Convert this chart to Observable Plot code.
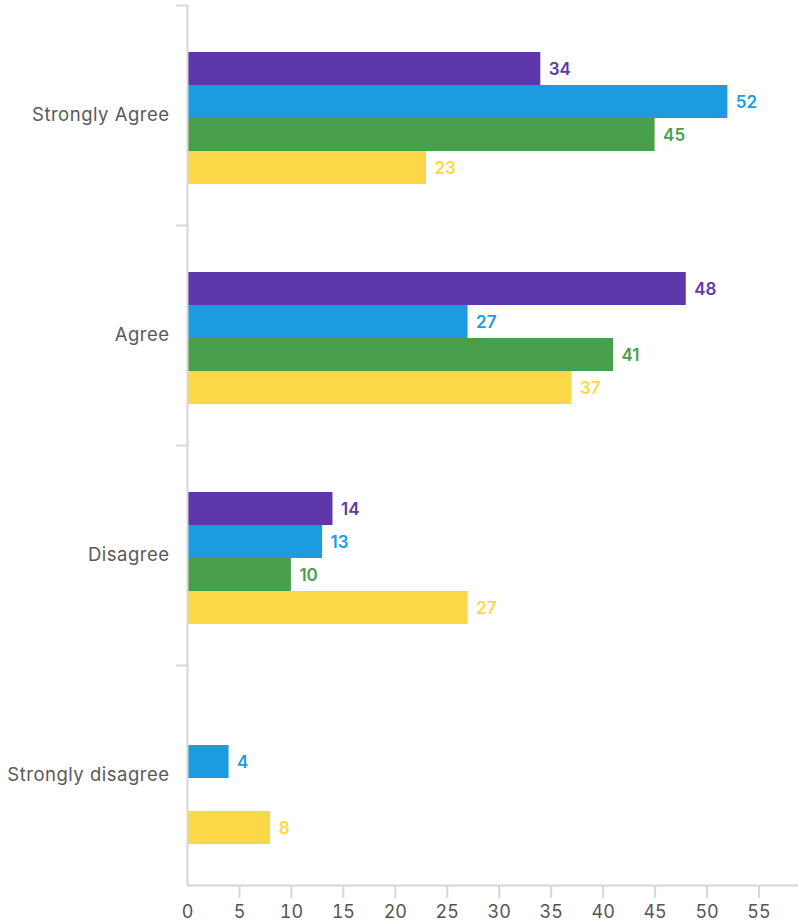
<!DOCTYPE html>
<html>
<head>
<meta charset="utf-8">
<script src="https://cdn.jsdelivr.net/npm/d3@7"></script>
<script src="https://cdn.jsdelivr.net/npm/@observablehq/plot@0.6"></script>
<style>
  html, body { margin: 0; padding: 0; background: #fff; }
  g[aria-label="fy-axis tick label"] text { letter-spacing: 0.5px; }
</style>
</head>
<body>
<div id="chart"></div>
<script>
const categories = ["Strongly Agree", "Agree", "Disagree", "Strongly disagree"];
const series = ["Group 1", "Group 2", "Group 3", "Group 4"];
const colors = ["#5e38ab", "#1c9be0", "#479f4b", "#fcd748"];
const group1 = [34, 48, 14, 0];
const group2 = [52, 27, 13, 4];
const group3 = [45, 41, 10, 0];
const group4 = [23, 37, 27, 8];
const xTicks = [0, 5, 10, 15, 20, 25, 30, 35, 40, 45, 50, 55];

const values = [group1, group2, group3, group4];
const data = [];
categories.forEach((c, ci) => {
  series.forEach((s, si) => {
    data.push({category: c, series: s, value: values[si][ci]});
  });
});
const shown = data.filter(d => d.value > 0);

const W = 798, H = 924;
const mTop = 5, mBottom = 39, mLeft = 187, mRight = 0;
const facetH = (H - mTop - mBottom) / categories.length;
const axisGray = "#d6d6d6";
const font = "Inter, 'Open Sans', sans-serif";

const chart = Plot.plot({
  width: W,
  height: H,
  marginTop: mTop,
  marginBottom: mBottom,
  marginLeft: mLeft,
  marginRight: mRight,
  style: {fontFamily: font, background: "#fff"},
  x: {domain: [0, 58.8]},
  y: {domain: series, paddingInner: 0, paddingOuter: 4 / 3, align: 0.53, axis: null},
  fy: {domain: categories, padding: 0, label: null},
  color: {domain: series, range: colors},
  marks: [
    Plot.barX(shown, {x: "value", y: "series", fy: "category", fill: "series"}),
    Plot.text(shown, {
      x: "value", y: "series", fy: "category", fill: "series",
      text: d => String(d.value), dx: 8, dy: 1, textAnchor: "start",
      fontSize: 17, fontWeight: 600
    }),
    Plot.ruleX([0], {stroke: axisGray, strokeWidth: 2}),
    Plot.ruleY(categories, {fy: d => d, y: null, dy: -facetH / 2, x1: 0, x2: 0, insetLeft: -11, stroke: axisGray, strokeWidth: 2}),
    Plot.ruleY([categories[categories.length - 1]], {fy: d => d, y: null, dy: facetH / 2, stroke: axisGray, strokeWidth: 2}),
    Plot.axisFy({anchor: "left", tickSize: 0, tickPadding: 18, fontSize: 18.5, color: "#5a5a5a", label: null}),
    Plot.axisX({anchor: "bottom", ticks: xTicks.filter(v => v > 0), tickSize: 13, insetTop: 3, tickFormat: () => "", stroke: axisGray, strokeWidth: 2, label: null}),
    Plot.axisX({anchor: "bottom", ticks: xTicks, tickSize: 0, tickPadding: 20, fontSize: 18, color: "#555", label: null})
  ]
});
document.getElementById("chart").appendChild(chart);
</script>
</body>
</html>
